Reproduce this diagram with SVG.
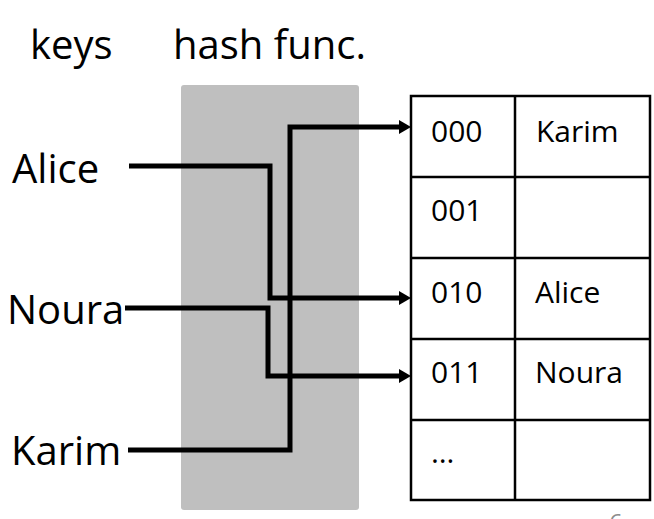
<svg xmlns="http://www.w3.org/2000/svg" width="654" height="519" viewBox="0 0 654 519">
<style>
text{font-family:"Open Sans","Liberation Sans",sans-serif;fill:#000}
.big{font-size:40px}
.cell{font-size:30px}
.grid{fill:none;stroke:#000;stroke-width:2.5}
.wire{fill:none;stroke:#000;stroke-width:5;stroke-linejoin:miter}
</style>
<defs>
<marker id="ah" markerUnits="userSpaceOnUse" markerWidth="12" markerHeight="14" refX="0" refY="7" orient="auto">
<path d="M0,0 L12,7 L0,14 z" fill="#000"/>
</marker>
</defs>
<rect width="654" height="519" fill="#fff"/>
<g id="title-keys"><text class="big" x="30" y="59">keys</text></g>
<g id="hash-func">
<text class="big" x="173" y="59">hash func.</text>
<rect x="181" y="85" width="178" height="425" rx="3" fill="#bfbfbf"/>
</g>
<g id="key-alice"><text class="big" x="12" y="183">Alice</text></g>
<g id="key-noura"><text class="big" x="7" y="324">Noura</text></g>
<g id="key-karim"><text class="big" x="11" y="465">Karim</text></g>
<g id="table">
<rect class="grid" x="411" y="96" width="239" height="404"/>
<line class="grid" x1="515" y1="96" x2="515" y2="500"/>
<line class="grid" x1="411" y1="177" x2="650" y2="177"/>
<line class="grid" x1="411" y1="258" x2="650" y2="258"/>
<line class="grid" x1="411" y1="339" x2="650" y2="339"/>
<line class="grid" x1="411" y1="420" x2="650" y2="420"/>
<text class="cell" x="431" y="142">000</text>
<text class="cell" x="536" y="142">Karim</text>
<text class="cell" x="431" y="221">001</text>
<text class="cell" x="431" y="303">010</text>
<text class="cell" x="535" y="303">Alice</text>
<text class="cell" x="431" y="383">011</text>
<text class="cell" x="535" y="383">Noura</text>
<text class="cell" x="431" y="463">…</text>
</g>
<g id="connectors">
<path class="wire" d="M129,166 H270 V298 H399" marker-end="url(#ah)"/>
<path class="wire" d="M125,308 H268 V376 H399" marker-end="url(#ah)"/>
<path class="wire" d="M128,450 H290 V127 H399" marker-end="url(#ah)"/>
</g>
<text x="609" y="531" style="font-size:24px;fill:#8c8c8c">6</text>
</svg>
